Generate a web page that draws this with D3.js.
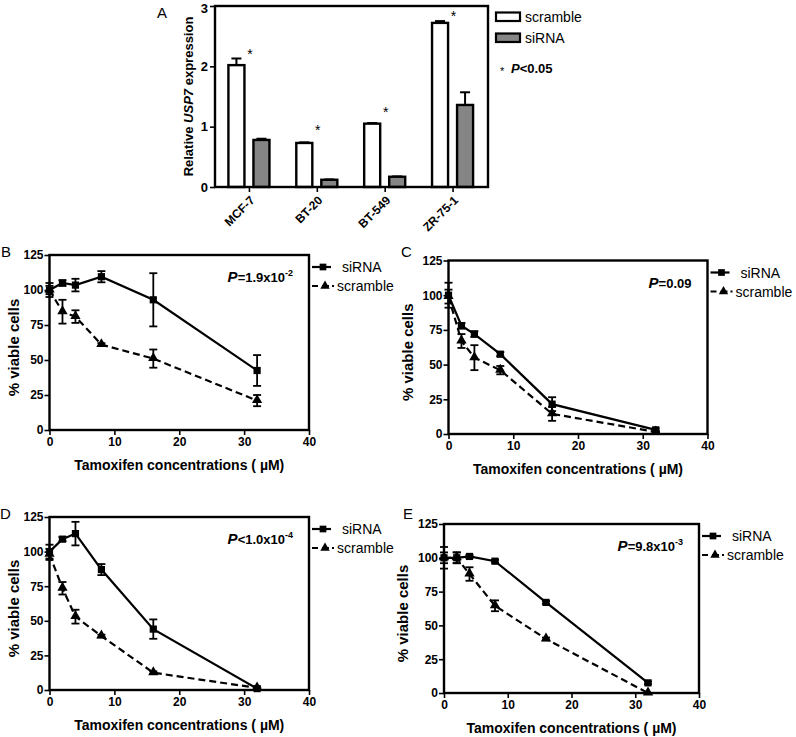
<!DOCTYPE html>
<html><head><meta charset="utf-8">
<script src="https://cdn.jsdelivr.net/npm/d3@7"></script>
<style>
html,body{margin:0;padding:0;background:#fff;}
text{font-family:"Liberation Sans",Arial,Helvetica,sans-serif;fill:#000;}
</style></head>
<body>
<svg id="chart" width="796" height="737"></svg>
<script>
// ---------- DATA ----------
// Panel A
const cellLines = ["MCF-7", "BT-20", "BT-549", "ZR-75-1"];
const groupsA = ["scramble", "siRNA"];
const scrambleExpr = [2.02, 0.73, 1.05, 2.72];
const scrambleExprErr = [0.11, 0.01, 0.01, 0.03];
const siRNAExpr = [0.78, 0.12, 0.17, 1.36];
const siRNAExprErr = [0.02, 0.005, 0.005, 0.21];
const starLevel = [2.24, 0.97, 1.28, 2.87];
const yTicksA = [0, 1, 2, 3];

// Panels B-E
const concentrations = [0, 2, 4, 8, 16, 32];
const xTicks = [0, 10, 20, 30, 40];
const yTicks = [0, 25, 50, 75, 100, 125];

const siRNA_B = [100, 105, 103.5, 109.5, 93, 42.5];
const siRNA_B_err = [5, 2, 4.5, 4, 19, 11];
const scramble_B = [100, 84.5, 81, 61, 51, 21];
const scramble_B_err = [3, 8.5, 4.5, 1, 6.5, 4];

const siRNA_C = [100, 78, 72, 57.5, 21.5, 3];
const siRNA_C_err = [9, 2, 2, 1.5, 5, 1];
const scramble_C = [99, 67, 55, 46, 14.5, 1.5];
const scramble_C_err = [5, 5, 9, 3, 5, 0.5];

const siRNA_D = [100, 109, 113, 87, 44, 1];
const siRNA_D_err = [5, 1.5, 8.5, 4, 7, 0.5];
const scramble_D = [98, 73.5, 53, 39, 12.5, 1.5];
const scramble_D_err = [4, 4.5, 5, 1, 1, 0.5];

const siRNA_E = [100, 100, 101, 97.5, 67, 7.5];
const siRNA_E_err = [8, 4, 1, 1, 1, 1];
const scramble_E = [100, 100, 88, 64.5, 40, 0];
const scramble_E_err = [4, 4, 5, 4, 1, 0];

const pLabels = {
  B: {op: "=", base: "1.9x10", exp: "-2"},
  C: {op: "=", base: "0.09", exp: ""},
  D: {op: "<", base: "1.0x10", exp: "-4"},
  E: {op: "=", base: "9.8x10", exp: "-3"}
};

// ---------- DRAW ----------
const svg = d3.select("#chart");
const SW = 2.4;

function styleAxis(g, fs) {
  g.select(".domain").remove();
  g.selectAll(".tick line").attr("stroke", "#000").attr("stroke-width", 1.6);
  g.selectAll(".tick text").attr("font-size", fs).attr("font-weight", "bold")
    .attr("font-family", "'Liberation Sans',Arial,sans-serif").attr("fill", "#000");
}

// ----- Panel A -----
(function () {
  const L = 215, R = 488, T = 6, B = 187;
  const x0 = d3.scaleBand().domain(cellLines).range([L, 486.5]).paddingInner(0.36).paddingOuter(0.18);
  const x1 = d3.scaleBand().domain(groupsA).range([0, x0.bandwidth()]).paddingInner(0.264);
  const y = d3.scaleLinear().domain([0, 3]).range([B, T]);
  const g = svg.append("g");

  const rows = cellLines.map((c, i) => ({
    c, i,
    vals: [
      {k: "scramble", v: scrambleExpr[i], e: scrambleExprErr[i]},
      {k: "siRNA", v: siRNAExpr[i], e: siRNAExprErr[i]}
    ]
  }));
  const grp = g.selectAll("g.grp").data(rows).enter().append("g")
    .attr("transform", d => `translate(${x0(d.c)},0)`);
  const bar = grp.selectAll("g.bar").data(d => d.vals).enter().append("g");
  bar.append("line")
    .attr("x1", d => x1(d.k) + x1.bandwidth() / 2).attr("x2", d => x1(d.k) + x1.bandwidth() / 2)
    .attr("y1", d => y(d.v)).attr("y2", d => y(d.v + d.e))
    .attr("stroke", "#000").attr("stroke-width", 2);
  bar.append("line")
    .attr("x1", d => x1(d.k) + x1.bandwidth() / 2 - 5).attr("x2", d => x1(d.k) + x1.bandwidth() / 2 + 5)
    .attr("y1", d => y(d.v + d.e)).attr("y2", d => y(d.v + d.e))
    .attr("stroke", "#000").attr("stroke-width", 2);
  bar.append("rect")
    .attr("x", d => x1(d.k) + 1.2).attr("width", x1.bandwidth() - 2.4)
    .attr("y", d => y(d.v)).attr("height", d => y(0) - y(d.v))
    .attr("fill", d => d.k === "scramble" ? "#fff" : "#858585")
    .attr("stroke", "#000").attr("stroke-width", SW);

  g.selectAll("text.star").data(cellLines).enter().append("text")
    .attr("x", d => x0(d) + x0.bandwidth() / 2 + 1)
    .attr("y", (d, i) => y(starLevel[i]) + 7)
    .attr("text-anchor", "middle").attr("font-size", 14).text("*");

  g.append("rect").attr("x", L).attr("y", T).attr("width", R - L).attr("height", B - T)
    .attr("fill", "none").attr("stroke", "#000").attr("stroke-width", SW);

  const ya = g.append("g").attr("transform", `translate(${L},0)`)
    .call(d3.axisLeft(y).tickValues(yTicksA).tickFormat(d3.format("d")).tickSize(5).tickPadding(2));
  styleAxis(ya, 13);
  ya.selectAll(".tick text").filter(d => d === 3).attr("dy", "0.5em");

  const xa = g.append("g").attr("transform", `translate(0,${B})`)
    .call(d3.axisBottom(d3.scalePoint().domain(cellLines).range([x0(cellLines[0]) + x0.bandwidth() / 2, x0(cellLines[3]) + x0.bandwidth() / 2])).tickSize(5).tickPadding(3));
  styleAxis(xa, 12);
  xa.selectAll(".tick text").attr("text-anchor", "end")
    .attr("transform", "translate(3,11) rotate(-45)").attr("dy", "0.35em").attr("y", 0).attr("x", 0);

  const yt = g.append("text").attr("transform", `translate(193,${(T + B) / 2}) rotate(-90)`)
    .attr("text-anchor", "middle").attr("font-size", 13).attr("font-weight", "bold");
  yt.append("tspan").text("Relative ");
  yt.append("tspan").attr("font-style", "italic").text("USP7");
  yt.append("tspan").text(" expression");

  g.append("text").attr("x", 157).attr("y", 18).attr("font-size", 15).text("A");

  const lg = g.append("g");
  groupsA.forEach((k, i) => {
    lg.append("rect").attr("x", 496).attr("y", 12.5 + i * 21).attr("width", 24).attr("height", 8.5)
      .attr("fill", k === "scramble" ? "#fff" : "#858585").attr("stroke", "#000").attr("stroke-width", 2.2);
    lg.append("text").attr("x", 525).attr("y", 22 + i * 21).attr("font-size", 14).text(k);
  });
  lg.append("text").attr("x", 500).attr("y", 75).attr("font-size", 11).text("*");
  const pt = lg.append("text").attr("x", 511).attr("y", 73).attr("font-size", 13).attr("font-weight", "bold");
  pt.append("tspan").attr("font-style", "italic").text("P");
  pt.append("tspan").text("<0.05");
})();

// ----- Panels B-E -----
function drawPanel(cfg) {
  const {L, R, T, B, letter, lx, ly, ytx, sir, sirE, scr, scrE} = cfg;
  const x = d3.scaleLinear().domain([0, 40]).range([L, R]);
  const y = d3.scaleLinear().domain([0, 125]).range([B, T]);
  const g = svg.append("g");

  g.append("rect").attr("x", L).attr("y", T).attr("width", R - L).attr("height", B - T)
    .attr("fill", "none").attr("stroke", "#000").attr("stroke-width", SW);

  const ya = g.append("g").attr("transform", `translate(${L},0)`)
    .call(d3.axisLeft(y).tickValues(yTicks).tickSize(5).tickPadding(1));
  styleAxis(ya, 12);
  const xa = g.append("g").attr("transform", `translate(0,${B})`)
    .call(d3.axisBottom(x).tickValues(xTicks).tickSize(5).tickPadding(2));
  styleAxis(xa, 12);

  const series = [
    {k: "scramble", v: scr, e: scrE, dash: "7,4"},
    {k: "siRNA", v: sir, e: sirE, dash: null}
  ];
  series.forEach(s => {
    const pts = concentrations.map((c, i) => ({c, v: s.v[i], e: s.e[i]}));
    const eb = g.append("g").selectAll("g").data(pts).enter().append("g");
    eb.append("line").attr("x1", d => x(d.c)).attr("x2", d => x(d.c))
      .attr("y1", d => y(d.v - d.e)).attr("y2", d => y(d.v + d.e))
      .attr("stroke", "#000").attr("stroke-width", 1.8);
    [1, -1].forEach(sg => {
      eb.append("line").attr("x1", d => x(d.c) - 4).attr("x2", d => x(d.c) + 4)
        .attr("y1", d => y(d.v + sg * d.e)).attr("y2", d => y(d.v + sg * d.e))
        .attr("stroke", "#000").attr("stroke-width", 1.8);
    });
    g.append("path").datum(pts)
      .attr("d", d3.line().x(d => x(d.c)).y(d => y(d.v)))
      .attr("fill", "none").attr("stroke", "#000").attr("stroke-width", 2.2)
      .attr("stroke-dasharray", s.dash);
  });
  series.forEach(s => {
    const pts = concentrations.map((c, i) => ({c, v: s.v[i]}));
    const sym = d3.symbol().type(s.k === "siRNA" ? d3.symbolSquare : d3.symbolTriangle)
      .size(s.k === "siRNA" ? 52 : 46);
    g.append("g").selectAll("path").data(pts).enter().append("path")
      .attr("d", sym).attr("transform", d => `translate(${x(d.c)},${y(d.v) + (s.k === "siRNA" ? 0 : -0.5)})`)
      .attr("fill", "#000");
  });

  g.append("text").attr("x", (L + R) / 2).attr("y", B + 40).attr("text-anchor", "middle")
    .attr("font-size", 14).attr("font-weight", "bold").text("Tamoxifen concentrations ( \u00b5M)");
  g.append("text").attr("transform", `translate(${ytx},${(T + B) / 2 + 5}) rotate(-90)`)
    .attr("text-anchor", "middle").attr("font-size", 15).attr("font-weight", "bold").text("% viable cells");

  g.append("text").attr("x", lx).attr("y", ly).attr("font-size", 15).text(letter);

  const p = pLabels[letter];
  const pt = g.append("text").attr("x", R - 16).attr("y", T + 27).attr("text-anchor", "end")
    .attr("font-size", 13).attr("font-weight", "bold");
  pt.append("tspan").attr("font-style", "italic").attr("font-size", 15).text("P");
  pt.append("tspan").text(p.op + p.base);
  if (p.exp) pt.append("tspan").attr("font-size", 9).attr("dy", -6).text(p.exp);

  const lx0 = R + 3, ly0 = T + 12;
  const lg = g.append("g");
  lg.append("line").attr("x1", lx0).attr("x2", lx0 + 19).attr("y1", ly0).attr("y2", ly0)
    .attr("stroke", "#000").attr("stroke-width", 2.2);
  lg.append("path").attr("d", d3.symbol().type(d3.symbolSquare).size(45))
    .attr("transform", `translate(${lx0 + 11},${ly0})`);
  lg.append("text").attr("x", lx0 + 30).attr("y", ly0 + 5).attr("font-size", 14).text("siRNA");
  const ly1 = ly0 + 19;
  lg.append("line").attr("x1", lx0).attr("x2", lx0 + 24).attr("y1", ly1).attr("y2", ly1)
    .attr("stroke", "#000").attr("stroke-width", 2.2).attr("stroke-dasharray", "6,4,7,3,2,3");
  lg.append("path").attr("d", d3.symbol().type(d3.symbolTriangle).size(38))
    .attr("transform", `translate(${lx0 + 13},${ly1})`);
  lg.append("text").attr("x", lx0 + 25).attr("y", ly1 + 5).attr("font-size", 14).text("scramble");
}

drawPanel({L: 49.5, R: 309, T: 255, B: 430, letter: "B", lx: 1, ly: 257, ytx: 19,
  sir: siRNA_B, sirE: siRNA_B_err, scr: scramble_B, scrE: scramble_B_err});
drawPanel({L: 448.5, R: 707.5, T: 260.5, B: 434, letter: "C", lx: 401, ly: 257, ytx: 413,
  sir: siRNA_C, sirE: siRNA_C_err, scr: scramble_C, scrE: scramble_C_err});
drawPanel({L: 49.5, R: 309, T: 517, B: 690, letter: "D", lx: 0, ly: 519, ytx: 19,
  sir: siRNA_D, sirE: siRNA_D_err, scr: scramble_D, scrE: scramble_D_err});
drawPanel({L: 444, R: 699, T: 524, B: 693, letter: "E", lx: 403, ly: 519, ytx: 408,
  sir: siRNA_E, sirE: siRNA_E_err, scr: scramble_E, scrE: scramble_E_err});
</script>
</body></html>
